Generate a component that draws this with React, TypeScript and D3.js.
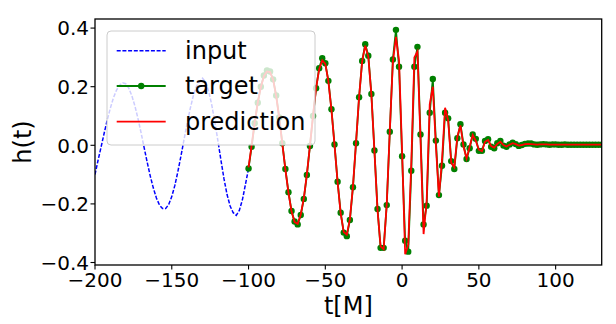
import React from "react";
import * as d3 from "d3";

// sampling grids (start, step)
const INPUT_START = -200;
const TARGET_START = -100;
const STEP = 2;

const inputValues: number[] = [
  -0.100, -0.051, -0.005, 0.042, 0.087, 0.127, 0.162, 0.188, 0.205, 0.213,
  0.210, 0.195, 0.169, 0.134, 0.091, 0.043, -0.008, -0.058, -0.105, -0.146,
  -0.180, -0.204, -0.216, -0.216, -0.202, -0.175, -0.137, -0.089, -0.036, 0.020,
  0.075, 0.125, 0.168, 0.200, 0.218, 0.229, 0.216, 0.185, 0.139, 0.081,
  0.017, -0.050, -0.114, -0.168, -0.207, -0.230, -0.239, -0.222, -0.186, -0.133,
  -0.079,
];

const targetValues: number[] = [
  -0.079, -0.005, 0.075, 0.145, 0.200, 0.238, 0.255, 0.252, 0.225, 0.170,
  0.095, 0.007, -0.081, -0.160, -0.224, -0.260, -0.270, -0.238, -0.183, -0.101,
  -0.002, 0.100, 0.195, 0.263, 0.297, 0.280, 0.220, 0.123, 0.003, -0.124,
  -0.230, -0.298, -0.310, -0.255, -0.143, 0.007, 0.164, 0.288, 0.345, 0.306,
  0.175, -0.018, -0.217, -0.350, -0.350, -0.204, 0.046, 0.293, 0.394, 0.268,
  -0.037, -0.326, -0.363, -0.087, 0.268, 0.336, 0.037, -0.270, -0.206, 0.111,
  0.226, 0.016, -0.170, -0.070, 0.111, 0.092, -0.054, -0.081, 0.024, 0.072,
  0.003, -0.047, -0.010, 0.037, 0.022, -0.019, -0.019, 0.015, 0.021, -0.005,
  -0.010, 0.007, 0.015, -0.001, -0.005, 0.003, 0.009, 0.004, -0.002, 0.001,
  0.005, 0.006, 0.006, 0.003, 0.002, 0.003, 0.004, 0.003, 0.002, 0.003,
  0.003, 0.002, 0.002, 0.003, 0.002, 0.002, 0.002, 0.002, 0.002, 0.002,
  0.002, 0.002, 0.002, 0.002, 0.002, 0.002,
];

const predictionValues: number[] = [
  -0.075, 0.000, 0.078, 0.146, 0.198, 0.236, 0.252, 0.250, 0.224, 0.168,
  0.093, 0.005, -0.083, -0.162, -0.226, -0.262, -0.268, -0.236, -0.180, -0.098,
  0.000, 0.102, 0.195, 0.260, 0.290, 0.278, 0.218, 0.120, 0.000, -0.126,
  -0.232, -0.296, -0.305, -0.252, -0.140, 0.010, 0.166, 0.286, 0.340, 0.302,
  0.172, -0.022, -0.222, -0.345, -0.355, -0.200, 0.050, 0.285, 0.370, 0.290,
  -0.020, -0.372, -0.340, -0.060, 0.300, 0.320, 0.020, -0.303, -0.190, 0.140,
  0.200, 0.000, -0.175, -0.050, 0.128, 0.085, -0.060, -0.075, 0.030, 0.068,
  -0.005, -0.045, -0.005, 0.035, 0.015, -0.015, -0.020, 0.012, 0.018, -0.003,
  -0.008, 0.005, 0.012, 0.001, -0.004, 0.002, 0.007, 0.004, -0.001, 0.001,
  0.004, 0.005, 0.004, 0.003, 0.002, 0.003, 0.003, 0.003, 0.002, 0.002,
  0.002, 0.002, 0.002, 0.002, 0.002, 0.002, 0.002, 0.002, 0.002, 0.002,
  0.002, 0.002, 0.002, 0.002, 0.002, 0.002,
];

const xTicks = [-200, -150, -100, -50, 0, 50, 100];
const yTicks = [-0.4, -0.2, 0.0, 0.2, 0.4];
const legendLabels = ["input", "target", "prediction"];

const W = 616;
const H = 324;
const PLOT = { left: 95, right: 601.7, top: 19, bottom: 265 };
const FONT = "'DejaVu Sans', sans-serif";

const fmtMinus = (s: string) => s.replace("-", "\u2212");

export default function App() {
  const x = d3.scaleLinear().domain([-200, 130]).range([PLOT.left, PLOT.right]);
  const y = d3.scaleLinear().domain([-0.4085, 0.431]).range([PLOT.bottom, PLOT.top]);

  const inputPts: [number, number][] = inputValues.map((v, i) => [INPUT_START + i * STEP, v]);
  const targetPts: [number, number][] = targetValues.map((v, i) => [TARGET_START + i * STEP, v]);
  const predPts: [number, number][] = predictionValues.map((v, i) => [TARGET_START + i * STEP, v]);

  const line = d3
    .line<[number, number]>()
    .x((d) => x(d[0]))
    .y((d) => y(d[1]));

  const colors = { input: "#0000ff", target: "#008000", prediction: "#ff0000" };

  const legend = { x: 107, y: 31, w: 208, h: 114 };
  const rowsY = [50.7, 86, 121.7];
  const hx0 = 116.7;
  const hx1 = 165.7;

  return (
    <div style={{ position: "absolute", left: 0, top: 0 }}>
      <svg width={W} height={H} style={{ display: "block" }} fontFamily={FONT}>
        <rect x={0} y={0} width={W} height={H} fill="#fff" />
        <defs>
          <clipPath id="plotclip">
            <rect x={PLOT.left} y={PLOT.top} width={PLOT.right - PLOT.left} height={PLOT.bottom - PLOT.top} />
          </clipPath>
        </defs>
        <g clipPath="url(#plotclip)">
          <path d={line(inputPts) || ""} fill="none" stroke={colors.input} strokeWidth={1.5} strokeDasharray="4,1.7" />
          <path d={line(targetPts) || ""} fill="none" stroke={colors.target} strokeWidth={1.8} />
          {targetPts.map((p, i) => (
            <circle key={i} cx={x(p[0])} cy={y(p[1])} r={3.2} fill={colors.target} />
          ))}
          <path d={line(predPts) || ""} fill="none" stroke={colors.prediction} strokeWidth={1.8} />
        </g>

        {/* spines */}
        <rect
          x={PLOT.left}
          y={PLOT.top}
          width={PLOT.right - PLOT.left}
          height={PLOT.bottom - PLOT.top}
          fill="none"
          stroke="#000"
          strokeWidth={1.3}
        />

        {/* x ticks */}
        {xTicks.map((t) => (
          <g key={"x" + t}>
            <line x1={x(t)} x2={x(t)} y1={PLOT.bottom} y2={PLOT.bottom + 4.5} stroke="#000" strokeWidth={1.1} />
            <text x={x(t)} y={286.5} textAnchor="middle" fontSize={20} fill="#000">
              {fmtMinus(String(t))}
            </text>
          </g>
        ))}
        {/* y ticks */}
        {yTicks.map((t) => (
          <g key={"y" + t}>
            <line x1={PLOT.left - 4.5} x2={PLOT.left} y1={y(t)} y2={y(t)} stroke="#000" strokeWidth={1.1} />
            <text x={89} y={y(t) + 7.3} textAnchor="end" fontSize={20} fill="#000">
              {fmtMinus(t.toFixed(1))}
            </text>
          </g>
        ))}

        {/* axis labels */}
        <text x={(PLOT.left + PLOT.right) / 2} y={313.5} textAnchor="middle" fontSize={24} fill="#000">
          t[M]
        </text>
        <text
          transform={`translate(31,${(PLOT.top + PLOT.bottom) / 2}) rotate(-90)`}
          textAnchor="middle"
          fontSize={24}
          fill="#000"
        >
          h(t)
        </text>

        {/* legend */}
        <rect
          x={legend.x}
          y={legend.y}
          width={legend.w}
          height={legend.h}
          rx={4}
          fill="#fff"
          fillOpacity={0.8}
          stroke="#cccccc"
          strokeWidth={1}
        />
        {legendLabels.map((lab, i) => {
          const cy = rowsY[i];
          const c = (colors as any)[lab];
          return (
            <g key={lab}>
              <line
                x1={hx0}
                x2={hx1}
                y1={cy}
                y2={cy}
                stroke={c}
                strokeWidth={lab === "input" ? 1.5 : 1.8}
                strokeDasharray={lab === "input" ? "4,1.7" : undefined}
              />
              {lab === "target" && <circle cx={(hx0 + hx1) / 2} cy={cy} r={3.2} fill={c} />}
              <text x={185} y={cy + 8} fontSize={24} fill="#000">
                {lab}
              </text>
            </g>
          );
        })}
      </svg>
    </div>
  );
}
